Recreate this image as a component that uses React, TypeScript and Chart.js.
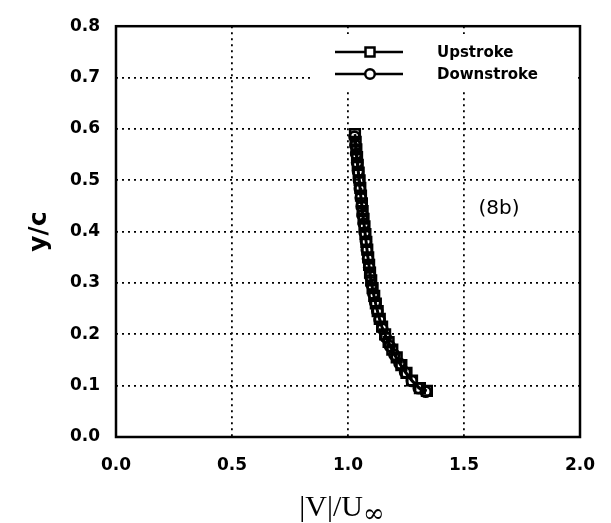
import React, { useEffect, useRef } from "react";
import { Chart, registerables } from "chart.js";

Chart.register(...registerables);

// ---- data ----
const upstrokeX = [1.030, 1.033, 1.036, 1.039, 1.042, 1.046, 1.050, 1.053, 1.056, 1.060, 1.063, 1.067, 1.071, 1.075, 1.079, 1.083, 1.087, 1.091, 1.095, 1.100, 1.106, 1.113, 1.120, 1.128, 1.137, 1.147, 1.160, 1.175, 1.191, 1.210, 1.230, 1.252, 1.276, 1.310, 1.340];
const upstrokeY = [0.590, 0.575, 0.560, 0.545, 0.530, 0.515, 0.500, 0.485, 0.470, 0.455, 0.440, 0.425, 0.410, 0.395, 0.380, 0.365, 0.350, 0.335, 0.320, 0.305, 0.290, 0.275, 0.260, 0.245, 0.230, 0.215, 0.200, 0.185, 0.170, 0.155, 0.140, 0.125, 0.110, 0.095, 0.090];
const downstrokeX = [1.028, 1.032, 1.035, 1.039, 1.043, 1.047, 1.051, 1.055, 1.059, 1.063, 1.068, 1.072, 1.077, 1.081, 1.086, 1.091, 1.096, 1.102, 1.109, 1.117, 1.126, 1.136, 1.148, 1.163, 1.180, 1.200, 1.222, 1.246, 1.275, 1.305, 1.335];
const downstrokeY = [0.585, 0.568, 0.551, 0.534, 0.517, 0.500, 0.483, 0.466, 0.449, 0.432, 0.415, 0.398, 0.381, 0.364, 0.347, 0.330, 0.313, 0.296, 0.279, 0.262, 0.245, 0.228, 0.211, 0.194, 0.177, 0.160, 0.143, 0.126, 0.109, 0.095, 0.088];
const seriesLabels = ["Upstroke", "Downstroke"];
const xTitleMain = "|V|/U";
const xTitleSub = "\u221E";
const yTitle = "y/c";
const annotationText = "(8b)";
const annotationAt = { x: 1.651, y: 0.444 };

const toPoints = (xs: number[], ys: number[]) => xs.map((x, i) => ({ x, y: ys[i] }));

const framePlugin = {
  id: "framePlugin",
  beforeDatasetsDraw(chart: any) {
    const { ctx } = chart;
    ctx.save();
    ctx.fillStyle = "#ffffff";
    ctx.fillRect(310, 34, 266, 57);
    ctx.restore();
  },
  afterDatasetsDraw(chart: any) {
    const { ctx, chartArea: a, scales } = chart;
    ctx.save();
    // frame
    ctx.strokeStyle = "#000";
    ctx.lineWidth = 2.5;
    ctx.strokeRect(a.left, a.top, a.right - a.left, a.bottom - a.top);

    // legend
    const rows = [52, 74];
    chart.data.datasets.forEach((ds: any, i: number) => {
      const y = rows[i];
      ctx.strokeStyle = "#000";
      ctx.lineWidth = 2.5;
      ctx.beginPath();
      ctx.moveTo(335, y);
      ctx.lineTo(403, y);
      ctx.stroke();
      ctx.fillStyle = "#fff";
      ctx.lineWidth = 2.5;
      ctx.beginPath();
      if (ds.pointStyle === "rect") {
        ctx.rect(365.5, y - 4.5, 9, 9);
      } else {
        ctx.arc(370, y, 4.8, 0, Math.PI * 2);
      }
      ctx.fill();
      ctx.stroke();
      ctx.fillStyle = "#000";
      ctx.font = "bold 15px 'DejaVu Sans'";
      ctx.textAlign = "left";
      ctx.textBaseline = "middle";
      ctx.fillText(ds.label, 437, y + 1);
    });

    // annotation
    ctx.font = "20px 'DejaVu Sans'";
    ctx.textAlign = "center";
    ctx.textBaseline = "middle";
    ctx.fillStyle = "#000";
    ctx.fillText(annotationText, scales.x.getPixelForValue(annotationAt.x), scales.y.getPixelForValue(annotationAt.y));

    // x axis title with subscript
    ctx.textBaseline = "alphabetic";
    ctx.textAlign = "left";
    const mainFont = "30px 'Liberation Serif'";
    const subFont = "26px 'DejaVu Serif'";
    ctx.font = mainFont;
    const w1 = ctx.measureText(xTitleMain).width;
    ctx.font = subFont;
    const w2 = ctx.measureText(xTitleSub).width;
    const cx = 342;
    const x0 = cx - (w1 + w2) / 2;
    ctx.font = mainFont;
    ctx.fillText(xTitleMain, x0, 516);
    ctx.font = subFont;
    ctx.fillText(xTitleSub, x0 + w1, 522);
    ctx.restore();
  },
};

export default function App() {
  const ref = useRef<HTMLCanvasElement | null>(null);
  useEffect(() => {
    document.body.style.margin = "0";
    if (!ref.current) return;
    const chart = new Chart(ref.current, {
      type: "line",
      data: {
        datasets: [
          {
            label: seriesLabels[0],
            data: toPoints(upstrokeX, upstrokeY),
            borderColor: "#000",
            borderWidth: 2.5,
            pointStyle: "rect",
            pointRadius: 6.8,
            pointBorderWidth: 2.6,
            pointBorderColor: "#000",
            pointBackgroundColor: "rgba(255,255,255,0)",
            tension: 0,
          },
          {
            label: seriesLabels[1],
            data: toPoints(downstrokeX, downstrokeY),
            borderColor: "#000",
            borderWidth: 2.5,
            pointStyle: "circle",
            pointRadius: 5,
            pointBorderWidth: 2.6,
            pointBorderColor: "#000",
            pointBackgroundColor: "rgba(255,255,255,0)",
            tension: 0,
          },
        ],
      },
      options: {
        animation: false,
        responsive: true,
        maintainAspectRatio: false,
        layout: { autoPadding: false, padding: { top: 15, right: 31, left: 0, bottom: 0 } },
        plugins: { legend: { display: false }, tooltip: { enabled: false } },
        scales: {
          x: {
            type: "linear",
            min: 0,
            max: 2,
            ticks: {
              stepSize: 0.5,
              padding: 15,
              color: "#000",
              font: { family: "'DejaVu Sans'", weight: "bold", size: 17, lineHeight: 1.6 },
              callback: (v: any) => Number(v).toFixed(1),
            },
            grid: { color: "#000", lineWidth: 1.8, drawTicks: false },
            border: { display: false, dash: [2, 4] },
            afterFit: (s: any) => { s.height = 86; },
          },
          y: {
            type: "linear",
            min: 0,
            max: 0.8,
            ticks: {
              stepSize: 0.1,
              padding: 16,
              color: "#000",
              font: { family: "'DejaVu Sans'", weight: "bold", size: 17 },
              callback: (v: any) => Number(v).toFixed(1),
            },
            grid: { color: "#000", lineWidth: 1.8, drawTicks: false },
            border: { display: false, dash: [2, 4] },
            title: {
              display: true,
              text: yTitle,
              color: "#000",
              font: { family: "'DejaVu Sans'", weight: "bold", size: 25 },
              padding: { top: 24, bottom: 0 },
            },
            afterFit: (s: any) => { s.width = 116; },
          },
        },
      },
      plugins: [framePlugin],
    } as any);
    return () => chart.destroy();
  }, []);
  return (
    <div style={{ position: "relative", width: 611, height: 523 }}>
      <canvas ref={ref} />
    </div>
  );
}
